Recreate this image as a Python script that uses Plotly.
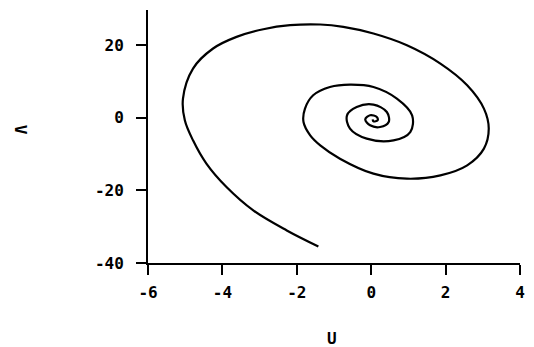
import plotly.graph_objects as go

# Trajectory in the (U, V) phase plane (outer end -> centre)
u_vals = [-1.42, -2.27, -3.17, -3.89, -4.43, -4.79, -5.01, -5.06, -4.79, -4.25,
          -3.62, -2.90, -2.18, -1.37, -0.75, 0.06, 0.96, 1.86, 2.58, 3.03,
          3.16, 3.03, 2.58, 1.86, 0.96, 0.06, -0.84, -1.37, -1.64, -1.82,
          -1.78, -1.56, -1.11, -0.57, 0.06, 0.69, 1.10, 1.05, 0.60, -0.12,
          -0.57, -0.65, -0.39, 0.06, 0.42, 0.47, 0.24, -0.03, -0.16, -0.03,
          0.15, 0.17, 0.06, 0.04]
v_vals = [-35.45, -31.03, -25.52, -19.09, -12.63, -6.21, -0.69, 5.30, 13.57, 19.09,
          22.29, 24.41, 25.52, 25.71, 25.05, 23.23, 20.00, 14.95, 8.97, 2.54,
          -2.98, -8.50, -13.10, -15.86, -16.77, -15.39, -11.26, -7.59, -4.83, -1.16,
          2.54, 6.21, 8.50, 9.16, 8.50, 5.30, 0.69, -3.92, -6.21, -5.74,
          -2.98, 0.69, 2.98, 3.64, 1.60, -1.16, -2.54, -2.07, -0.41, 0.69,
          0.22, -0.69, -0.97, -0.41]

x_ticks = [-6, -4, -2, 0, 2, 4]
y_ticks = [-40, -20, 0, 20]
x_title = "U"
y_title = "V"

font_family = "DejaVu Sans Mono"

fig = go.Figure()
fig.add_trace(go.Scatter(
    x=u_vals, y=v_vals, mode="lines",
    line=dict(color="black", width=2.2, shape="spline", smoothing=1.0),
    showlegend=False, hoverinfo="skip",
))

fig.update_layout(
    width=534, height=347,
    margin=dict(l=140, r=22, t=2, b=92, autoexpand=False),
    paper_bgcolor="white", plot_bgcolor="white",
    font=dict(family=font_family, color="black", size=16),
    xaxis=dict(
        range=[-6, 4], tickvals=x_ticks,
        ticktext=[f"<b>{t}</b>" for t in x_ticks],
        showgrid=False, zeroline=False, showline=True, linecolor="black", linewidth=2,
        ticks="outside", ticklen=10, tickwidth=2, tickcolor="black",
        ticklabelstandoff=4, automargin=False,
    ),
    yaxis=dict(
        range=[-40, 29.7], tickvals=y_ticks,
        ticktext=[f"<b>{t}</b>" for t in y_ticks],
        showgrid=False, zeroline=False, showline=True, linecolor="black", linewidth=2,
        ticks="outside", ticklen=10, tickwidth=2, tickcolor="black",
        ticklabelstandoff=9, automargin=False,
    ),
    annotations=[
        dict(text=f"<b>{x_title}</b>", showarrow=False,
             xref="paper", yref="paper", x=0.495, y=-0.30,
             xanchor="center", yanchor="middle", font=dict(size=16)),
        dict(text=f"<b>{y_title}</b>", textangle=90, showarrow=False,
             xref="paper", yref="paper", x=-0.343, y=0.525,
             xanchor="center", yanchor="middle", font=dict(size=16)),
    ],
)

fig.write_html("out.html")
